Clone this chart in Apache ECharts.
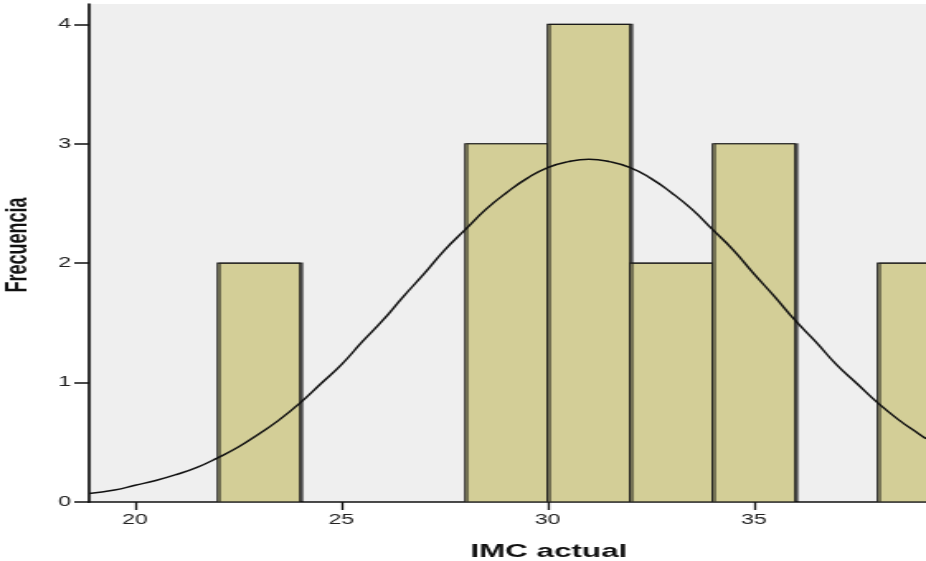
<!DOCTYPE html>
<html>
<head>
<meta charset="utf-8">
<script src="https://cdn.jsdelivr.net/npm/echarts@6/dist/echarts.min.js"></script>
<style>
html,body{margin:0;padding:0;background:#fff;overflow:hidden;}
#wrap{width:926px;height:561px;overflow:hidden;}
#c{width:561px;height:561px;transform:scaleX(1.6506);transform-origin:0 0;}
</style>
</head>
<body>
<div id="wrap"><div id="c"></div></div>
<script>
// Histogram bins (IMC actual) and frequencies
const binStart = [22, 28, 30, 32, 34, 38];
const binEnd   = [24, 30, 32, 34, 36, 40];
const freq     = [2, 3, 4, 2, 3, 2];
// Normal curve
const curveX = [18.885, 19.5, 20, 20.5, 21, 21.5, 22, 22.5, 23, 23.5, 24, 24.5, 25, 25.5, 26, 26.5, 27, 27.5, 28, 28.5, 29, 29.5, 30, 30.5, 31, 31.5, 32, 32.5, 33, 33.5, 34, 34.5, 35, 35.5, 36, 36.5, 37, 37.5, 38, 38.5, 39, 39.17];
const curveY = [0.071, 0.10, 0.14, 0.18, 0.23, 0.29, 0.37, 0.46, 0.57, 0.69, 0.83, 0.99, 1.15, 1.34, 1.52, 1.72, 1.91, 2.11, 2.28, 2.45, 2.59, 2.71, 2.80, 2.85, 2.87, 2.85, 2.80, 2.71, 2.59, 2.45, 2.28, 2.11, 1.91, 1.72, 1.52, 1.34, 1.15, 0.99, 0.83, 0.69, 0.57, 0.53];
const xTicks = [20, 25, 30, 35];
const yTicks = [0, 1, 2, 3, 4];

const bars = binStart.map((s, i) => [s, binEnd[i], freq[i]]);
const curve = curveX.map((x, i) => [x, curveY[i]]);

const chart = echarts.init(document.getElementById('c'));
const font = 'Liberation Sans, Arial, sans-serif';
chart.setOption({
  animation: false,
  backgroundColor: '#ffffff',
  grid: { left: 54, right: 0, top: 4, bottom: 59, show: true, backgroundColor: '#efefef', borderWidth: 0, containLabel: false, outerBoundsMode: 'none' },
  xAxis: {
    type: 'value', min: 18.885, max: 39.17,
    name: 'IMC actual', nameLocation: 'middle', nameGap: 40,
    nameTextStyle: { fontFamily: font, fontWeight: 'bold', fontSize: 19, color: '#111', padding: [0, 0, 0, 50] },
    axisLine: { show: true, onZero: false, lineStyle: { color: '#111', width: 1.6 } },
    axisTick: { show: true, length: 8, customValues: xTicks, lineStyle: { color: '#111', width: 1.3 } },
    axisLabel: { customValues: xTicks, margin: 11, fontFamily: font, fontSize: 14, color: '#222' },
    splitLine: { show: false }
  },
  yAxis: {
    type: 'value', min: 0, max: 4.17,
    name: 'Frecuencia', nameLocation: 'middle', nameGap: 34, nameRotate: 90,
    nameTextStyle: { fontFamily: font, fontWeight: 'bold', fontSize: 18, color: '#111', padding: [0, 0, 0, 16] },
    axisLine: { show: true, lineStyle: { color: '#111', width: 1.7 } },
    axisTick: { show: true, length: 9, customValues: yTicks, lineStyle: { color: '#111', width: 1.5 } },
    axisLabel: { customValues: yTicks, margin: 11, fontFamily: font, fontSize: 14, color: '#222' },
    splitLine: { show: false }
  },
  series: [
    {
      type: 'custom',
      clip: true,
      data: bars,
      encode: { x: [0, 1], y: 2 },
      renderItem: function (params, api) {
        const p0 = api.coord([api.value(0), api.value(2)]);
        const p1 = api.coord([api.value(1), 0]);
        return {
          type: 'rect',
          shape: { x: p0[0], y: p0[1], width: p1[0] - p0[0], height: p1[1] - p0[1] },
          style: {
            fill: '#d3ce97', stroke: '#1a1a1a', lineWidth: 1.2,
            shadowColor: 'rgba(0,0,0,0.5)', shadowOffsetX: 1.5, shadowOffsetY: 0, shadowBlur: 0.5
          }
        };
      },
      z: 2
    },
    {
      type: 'line',
      data: curve,
      smooth: true,
      showSymbol: false,
      lineStyle: { color: '#111', width: 1.5 },
      z: 3
    }
  ]
});
</script>
</body>
</html>
